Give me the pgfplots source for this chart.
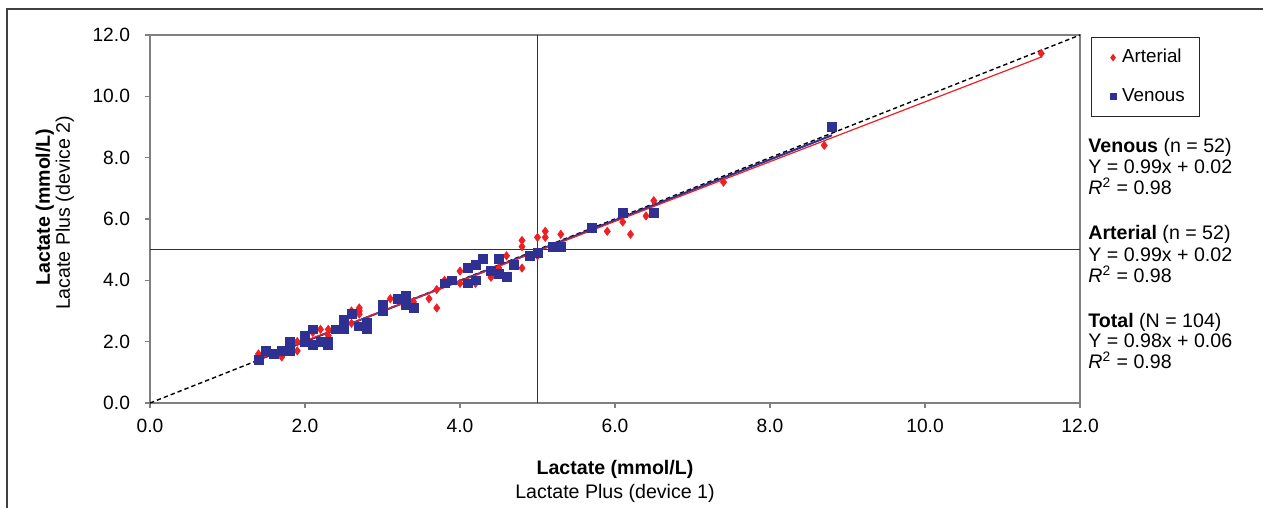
\documentclass[border=0pt]{standalone}
\usepackage{fontspec}
\setmainfont{Liberation Sans}
\usepackage{pgfplots}
\pgfplotsset{compat=1.18}
\definecolor{artred}{RGB}{237,32,36}
\definecolor{vennavy}{RGB}{46,49,146}
\definecolor{axgray}{RGB}{128,128,128}
\pgfplotsset{
  onemark/.style={legend image code/.code={%
    \path (0cm,0cm) (0.38cm,0cm);
    \draw[mark repeat=2,mark phase=2,mark size=1.5pt] plot coordinates {(0cm,0cm)(0.3cm,0cm)(0.38cm,0cm)};}},
}

\begin{document}
\begin{tikzpicture}[font=\fontsize{9.6}{11.5}\selectfont]
\useasboundingbox (-75pt,-52.5pt) rectangle (556.5pt,201.5pt);
% outer frame (only top and left visible)
\draw[line width=1pt, black!75] (-71.5pt,-60pt) -- (-71.5pt,197pt) -- (560pt,197pt);
\begin{axis}[
    at={(0pt,0pt)}, anchor=south west,
    scale only axis, width=465pt, height=184pt,
    xmin=0, xmax=12, ymin=0, ymax=12,
    xtick={0,2,...,12}, ytick={0,2,...,12},
    xtick pos=lower, ytick pos=left,
    tick align=outside, major tick length=2.5pt,
    tick style={axgray, line width=0.75pt},
    axis line style={axgray, line width=0.75pt},
    /pgf/number format/fixed,
    /pgf/number format/fixed zerofill,
    /pgf/number format/precision=1,
    /pgf/number format/assume math mode=true,
    xticklabel style={yshift=-2pt},
    yticklabel style={xshift=-4pt},
    legend style={at={(axis description cs:1.0118,0.995)}, anchor=north west,
        draw=black!85, line width=0.5pt, row sep=7.5pt, inner xsep=2pt, inner ysep=4pt,
        font=\fontsize{9.4}{11}\selectfont},
    legend cell align=left,
    clip=false,
]
% reference lines at 5 mmol/L
\draw[black!80, line width=0.5pt] (axis cs:5,0) -- (axis cs:5,12);
\draw[black!80, line width=0.5pt] (axis cs:0,5) -- (axis cs:12,5);

% Arterial
\addplot[only marks, mark=diamond*, mark size=2pt, color=artred, onemark] coordinates {
(1.4,1.6) (1.7,1.5) (1.9,2.0) (1.9,1.7) (2.1,2.3) (2.2,2.4) (2.3,2.4) (2.3,2.2)
(2.3,1.9) (2.6,3.0) (2.6,2.6) (2.7,3.1) (2.7,3.0) (2.7,2.9) (3.1,3.4) (3.4,3.3)
(3.6,3.4) (3.7,3.7) (3.7,3.1) (3.8,4.0) (4.0,3.9) (4.0,4.3) (4.2,3.9) (4.4,4.1)
(4.5,4.4) (4.6,4.8) (4.8,5.3) (4.8,5.1) (4.8,4.4) (5.0,5.4) (5.0,4.8) (5.1,5.6)
(5.1,5.4) (5.3,5.5) (5.9,5.6) (6.1,5.9) (6.2,5.5) (6.4,6.1) (6.5,6.6) (7.4,7.2)
(8.7,8.4) (11.5,11.4)
};
\addlegendentry{Arterial\rule{5pt}{0pt}}
% Venous
\addplot[only marks, mark=square*, mark size=2.2pt, color=vennavy, onemark] coordinates {
(1.4,1.4) (1.5,1.7) (1.6,1.6) (1.7,1.7) (1.8,2.0) (1.8,1.7) (2.0,2.2) (2.0,2.0)
(2.1,2.4) (2.1,1.9) (2.2,2.0) (2.3,2.0) (2.3,1.9) (2.4,2.4) (2.5,2.4) (2.5,2.7)
(2.6,2.9) (2.7,2.5) (2.8,2.6) (2.8,2.4) (3.0,3.2) (3.0,3.0) (3.2,3.4) (3.3,3.5)
(3.3,3.2) (3.4,3.1) (3.8,3.9) (3.9,4.0) (4.1,4.4) (4.1,3.9) (4.2,4.5) (4.2,4.0)
(4.3,4.7) (4.4,4.3) (4.5,4.7) (4.5,4.2) (4.6,4.1) (4.7,4.5) (4.9,4.8) (5.0,4.9)
(5.2,5.1) (5.3,5.1) (5.7,5.7) (6.1,6.2) (6.5,6.2) (8.8,9.0)
};
\addlegendentry{Venous}

% line of identity
\addplot[black, line width=0.7pt, dash pattern=on 2.2pt off 1.5pt, forget plot] coordinates {(0,0) (12,12)};
% regression lines
\addplot[vennavy, line width=1pt, forget plot] coordinates {(1.4,1.41) (8.8,8.73)};
\addplot[artred, line width=0.6pt, forget plot] coordinates {(1.4,1.44) (11.5,11.28)};
\end{axis}

% axis titles
\node[anchor=base, font=\fontsize{9.8}{11.5}\selectfont\bfseries] at (232.5pt,-36pt) {Lactate (mmol/L)};
\node[anchor=base, font=\fontsize{9.8}{11.5}\selectfont] at (232.5pt,-48pt) {Lactate Plus (device 1)};
\node[anchor=base, rotate=90, font=\fontsize{9.8}{11.5}\selectfont\bfseries] at (-50pt,98pt) {Lactate (mmol/L)};
\node[anchor=base, rotate=90, font=\fontsize{9.8}{11.5}\selectfont] at (-40pt,95pt) {Lacate Plus (device 2)};

% regression statistics
\begin{scope}[every node/.style={anchor=base west, inner sep=0pt, font=\fontsize{9.8}{11.5}\selectfont}]
\node at (469pt,125pt) {\textbf{Venous} (n = 52)};
\node at (469pt,114.5pt) {Y = 0.99x + 0.02};
\node at (469pt,104pt) {\textit{R}\textsuperscript{2} = 0.98};
\node at (469pt,81.5pt) {\textbf{Arterial} (n = 52)};
\node at (469pt,70.5pt) {Y = 0.99x + 0.02};
\node at (469pt,60pt) {\textit{R}\textsuperscript{2} = 0.98};
\node at (469pt,37.5pt) {\textbf{Total} (N = 104)};
\node at (469pt,27.5pt) {Y = 0.98x + 0.06};
\node at (469pt,17pt) {\textit{R}\textsuperscript{2} = 0.98};
\end{scope}
\end{tikzpicture}
\end{document}
